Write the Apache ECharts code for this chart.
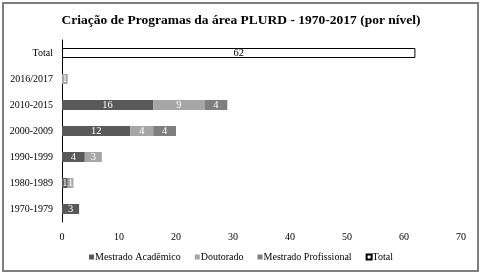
<!DOCTYPE html>
<html>
<head>
<meta charset="utf-8">
<script src="https://cdn.jsdelivr.net/npm/echarts@6/dist/echarts.min.js"></script>
<style>
  html, body { margin: 0; padding: 0; background: #fff; }
  #chart { width: 482px; height: 276px; }
</style>
</head>
<body>
<div id="chart"></div>
<script>
// categorias de baixo para cima
const periodos = ['1970-1979', '1980-1989', '1990-1999', '2000-2009', '2010-2015', '2016/2017', 'Total'];
const mestradoAcademico = [3, 1, 4, 12, 16, null, null];
const doutorado = [null, 1, 3, 4, 9, 1, null];
const mestradoProfissional = [null, null, null, 4, 4, null, null];
const total = [null, null, null, null, null, null, 62];
const xTicks = [0, 10, 20, 30, 40, 50, 60, 70];

const fonte = 'Liberation Serif';
let chart = echarts.init(document.getElementById('chart'));

function serie(nome, dados, cor, corTexto, borda) {
    return {
        name: nome,
        type: 'bar',
        stack: 'a',
        data: dados,
        barWidth: 10,
        itemStyle: {
            color: cor,
            borderColor: borda || cor,
            borderWidth: borda ? 1 : 0
        },
        label: {
            show: true,
            position: 'inside',
            color: corTexto,
            fontFamily: fonte,
            fontSize: 10.5
        }
    };
}

let option = {
    animation: false,
    textStyle: { fontFamily: fonte },
    graphic: [{
        type: 'rect',
        shape: { x: 3, y: 3, width: 475, height: 268 },
        style: { fill: 'none', stroke: '#7f7f7f', lineWidth: 2 },
        silent: true
    }],
    title: {
        text: 'Criação de Programas da área PLURD - 1970-2017 (por nível)',
        left: 'center',
        top: 9,
        textStyle: { fontFamily: fonte, fontSize: 13.5, fontWeight: 'bold', color: '#000' }
    },
    legend: {
        bottom: 9,
        left: 'center',
        icon: 'rect',
        itemWidth: 5,
        itemHeight: 5,
        itemGap: 14,
        textStyle: { fontFamily: fonte, fontSize: 10, color: '#000', padding: [0, 0, 0, -4] },
        data: ['Mestrado Acadêmico', 'Doutorado', 'Mestrado Profissional', 'Total']
    },
    grid: { left: 62, right: 21, top: 40, bottom: 54 },
    xAxis: {
        type: 'value',
        min: xTicks[0],
        max: xTicks[xTicks.length - 1],
        interval: 10,
        axisLine: { show: false },
        axisTick: { show: false },
        splitLine: { show: false },
        axisLabel: { color: '#000', fontFamily: fonte, fontSize: 10, margin: 10 }
    },
    yAxis: {
        type: 'category',
        data: periodos,
        axisLine: { show: true, lineStyle: { color: '#000', width: 1 } },
        axisTick: { show: false },
        axisLabel: { color: '#000', fontFamily: fonte, fontSize: 10, margin: 9 }
    },
    series: [
        serie('Mestrado Acadêmico', mestradoAcademico, '#595959', '#fff'),
        serie('Doutorado', doutorado, '#a6a6a6', '#fff'),
        serie('Mestrado Profissional', mestradoProfissional, '#7f7f7f', '#fff'),
        serie('Total', total, '#fff', '#000', '#000')
    ]
};

chart.setOption(option);
</script>
</body>
</html>
